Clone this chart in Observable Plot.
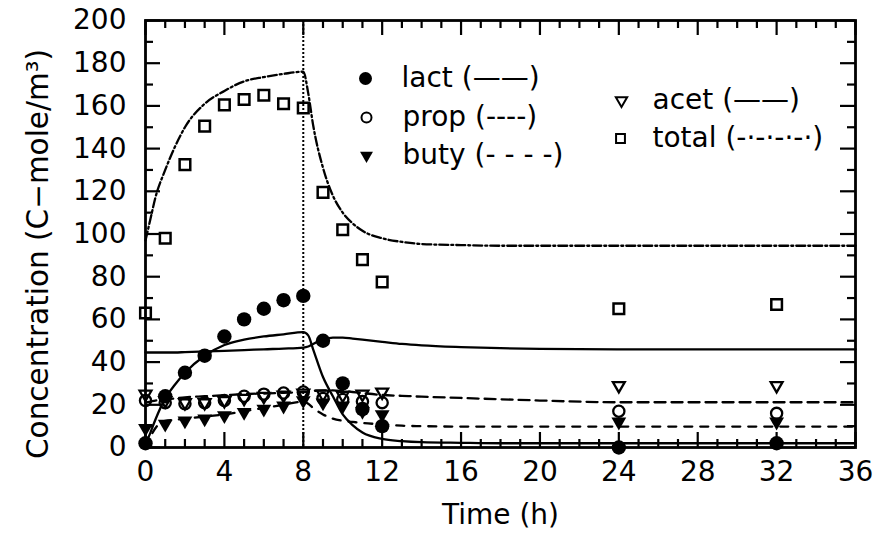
<!DOCTYPE html>
<html>
<head>
<meta charset="utf-8">
<script src="https://cdn.jsdelivr.net/npm/d3@7"></script>
<script src="https://cdn.jsdelivr.net/npm/@observablehq/plot@0.6"></script>
<style>
  html, body { margin: 0; padding: 0; background: #fff; }
  #chart { width: 876px; height: 556px; }
</style>
</head>
<body>
<div id="chart"></div>
<script>
// ---- Observed data (symbols) ----
const obsTime  = [0, 1, 2, 3, 4, 5, 6, 7, 8, 9, 10, 11, 12, 24, 32];
const lactObs  = [2, 24, 35, 43, 52, 60, 65, 69, 71, 50, 30, 18, 10, 0, 2];
const propObs  = [22, 21, 20.5, 21, 22, 24, 25, 25.5, 26, 23, 22.5, 21.5, 21, 17, 16];
const acetObs  = [25, 22, 21, 21, 22, 23, 24, 24.5, 25.5, 25, 24.5, 25, 26, 29, 29];
const butyObs  = [9, 11, 12.5, 13.5, 15, 16.5, 18, 19.5, 22, 21, 19.5, 17, 15.5, 12, 12];
const totalObs = [63, 98, 132.5, 150.5, 160.5, 163, 165, 161, 159, 119.5, 102, 88, 77.5, 65, 67];

// ---- Model curves (lines) ----
const modelTime  = [0, 0.25, 0.5, 1, 1.5, 2, 3, 4, 5, 6, 7, 8, 8.25, 8.5, 9, 9.5, 10, 10.5, 11, 12, 13, 14, 16, 18, 20, 24, 28, 32, 36];
const lactModel  = [1.5, 7, 13, 23, 29.5, 35, 43, 48, 50.5, 52, 53, 54, 52.5, 46, 33, 24, 15.5, 10.5, 7, 4, 3, 2.5, 2.2, 2, 2, 2, 2, 2, 2];
const acetModel  = [44.5, 44.5, 44.5, 44.5, 44.5, 44.7, 45, 45.3, 45.6, 46, 46.3, 46.8, 47.3, 48.5, 50.5, 51.5, 51.5, 51, 50.5, 49.5, 48.5, 47.8, 47, 46.5, 46.2, 46, 46, 46, 46];
const propModel  = [21, 21.5, 22, 22.5, 23, 23.5, 24, 24.5, 25, 25.3, 25.6, 26, 26.2, 26.5, 26.8, 26.8, 26.5, 26, 25.5, 24.6, 24.2, 23.8, 23.2, 22.6, 22, 21.2, 21.2, 21.2, 21.2];
const butyModel  = [0, 5, 9, 12.5, 13, 13.5, 14.5, 15.5, 17, 18.5, 20, 21.5, 20.5, 18.5, 15.5, 13.5, 12.5, 12, 11.5, 10.8, 10.2, 10, 9.8, 9.8, 9.8, 9.8, 9.8, 9.8, 9.8];
const totalModel = [97, 107, 117, 130, 141, 150, 161, 167, 171.5, 173.5, 175, 176, 166, 151, 131, 118, 110, 105, 101.5, 98, 96.3, 95.3, 94.8, 94.5, 94.5, 94.5, 94.5, 94.5, 94.5];

// ---- Axis ticks ----
const xTickLabels = [0, 4, 8, 12, 16, 20, 24, 28, 32, 36];
const xMinorTicks = [1, 2, 3, 5, 6, 7, 9, 10, 11, 13, 14, 15, 17, 18, 19, 21, 22, 23, 25, 26, 27, 29, 30, 31, 33, 34, 35];
const yTickLabels = [0, 20, 40, 60, 80, 100, 120, 140, 160, 180, 200];
const yMinorTicks = [10, 30, 50, 70, 90, 110, 130, 150, 170, 190];
const phaseChange = [8];

// ---- Legend ----
const legendNames = ["lact", "prop", "buty", "acet", "total"];
const legendLabels = ["lact (——)", "prop (----)", "buty (- - - -)", "acet (——)", "total (-·-·-·-·)"];

const W = 876, H = 556, mL = 145, mR = 21, mT = 20, mB = 109;
const FW = W - mL - mR, FH = H - mT - mB;

const triangleDown = {
  draw(ctx, size) {
    const a = Math.sqrt(4 * size / Math.sqrt(3));
    const h = a * Math.sqrt(3) / 2;
    ctx.moveTo(0, 2 * h / 3);
    ctx.lineTo(a / 2, -h / 3);
    ctx.lineTo(-a / 2, -h / 3);
    ctx.closePath();
  }
};

const rows = (ts, vs) => ts.map((t, i) => ({t, c: vs[i]}));

const styles = {
  lact:  {symbol: "circle", fill: "black", stroke: "none", r: 7.2, sw: 0, lr: 6.5, dash: null},
  prop:  {symbol: "circle", fill: "none", stroke: "black", r: 5.6, sw: 2.3, lr: 5, dash: "11,6"},
  buty:  {symbol: triangleDown, fill: "black", stroke: "none", r: 5.5, sw: 0, lr: 4.8, dash: "8,8"},
  acet:  {symbol: triangleDown, fill: "none", stroke: "black", r: 4.4, sw: 2.3, lr: 4.2, dash: null},
  total: {symbol: "square", fill: "none", stroke: "black", r: 6, sw: 2.5, lr: 5, dash: "9,3,2,3"}
};

const obsMap = {lact: lactObs, prop: propObs, buty: butyObs, acet: acetObs, total: totalObs};
const modelMap = {lact: lactModel, prop: propModel, buty: butyModel, acet: acetModel, total: totalModel};

const marks = [];

// model lines
for (const name of ["total", "acet", "prop", "buty", "lact"]) {
  const s = styles[name];
  marks.push(Plot.line(rows(modelTime, modelMap[name]), {
    x: "t", y: "c", stroke: "black", strokeWidth: 2.3,
    strokeDasharray: s.dash, curve: "monotone-x"
  }));
}

// vertical dotted line
marks.push(Plot.ruleX(phaseChange, {x: d => d, stroke: "black", strokeWidth: 2, strokeDasharray: "2,2"}));

// symbols
for (const name of ["total", "prop", "acet", "buty", "lact"]) {
  const s = styles[name];
  marks.push(Plot.dot(rows(obsTime, obsMap[name]), {
    x: "t", y: "c", symbol: s.symbol, r: s.r, fill: s.fill, stroke: s.stroke, strokeWidth: s.sw
  }));
}

// inward ticks on all four sides
const tickW = 2.2;
marks.push(
  Plot.ruleX(xTickLabels, {x: d => d, insetTop: FH - 15, strokeWidth: tickW}),
  Plot.ruleX(xMinorTicks, {x: d => d, insetTop: FH - 8, strokeWidth: tickW}),
  Plot.ruleX(xTickLabels, {x: d => d, insetBottom: FH - 15, strokeWidth: tickW}),
  Plot.ruleX(xMinorTicks, {x: d => d, insetBottom: FH - 8, strokeWidth: tickW}),
  Plot.ruleY(yTickLabels, {y: d => d, insetRight: FW - 15, strokeWidth: tickW}),
  Plot.ruleY(yMinorTicks, {y: d => d, insetRight: FW - 8, strokeWidth: tickW}),
  Plot.ruleY(yTickLabels, {y: d => d, insetLeft: FW - 15, strokeWidth: tickW}),
  Plot.ruleY(yMinorTicks, {y: d => d, insetLeft: FW - 8, strokeWidth: tickW})
);

marks.push(Plot.frame({stroke: "black", strokeWidth: 2.8}));

// legend
const legendPos = {
  lact:  {sx: 365, tx: 401, y: 78},
  prop:  {sx: 366, tx: 402, y: 117},
  buty:  {sx: 366, tx: 402, y: 155},
  acet:  {sx: 621, tx: 652, y: 100},
  total: {sx: 620, tx: 652, y: 138}
};
legendNames.forEach((name, i) => {
  const s = styles[name], p = legendPos[name];
  marks.push(Plot.dot([name], {
    frameAnchor: "top-left", dx: p.sx - mL, dy: p.y - mT,
    symbol: s.symbol, r: s.lr, fill: s.fill, stroke: s.stroke, strokeWidth: s.sw ? 2 : 0
  }));
  marks.push(Plot.text([legendLabels[i]], {
    text: d => d, frameAnchor: "top-left", dx: p.tx - mL, dy: p.y - mT,
    textAnchor: "start", lineAnchor: "middle", fontSize: 28, fill: "black", ariaLabel: "legend"
  }));
});

// axis titles
marks.push(Plot.text(["Time (h)"], {
  text: d => d, frameAnchor: "bottom", dy: 68, lineAnchor: "middle", fontSize: 28, fill: "black"
}));
marks.push(Plot.text(["Concentration (C\u2212mole/m³)"], {
  text: d => d, frameAnchor: "left", dx: -107, dy: 20, rotate: -90,
  textAnchor: "middle", lineAnchor: "middle", fontSize: 29.5, fill: "black"
}));

const chart = Plot.plot({
  width: W, height: H,
  marginLeft: mL, marginRight: mR, marginTop: mT, marginBottom: mB,
  style: {fontFamily: "DejaVu Sans", fontSize: "28px", color: "black", background: "white"},
  x: {domain: [0, 36], ticks: xTickLabels, tickSize: 0, tickPadding: 14, label: null, tickFormat: d => String(d)},
  y: {domain: [0, 200], ticks: yTickLabels, tickSize: 0, tickPadding: 19, label: null, tickFormat: d => String(d)},
  marks
});

d3.select(chart).selectAll('g[aria-label="legend"] text').style("letter-spacing", "2px");
document.getElementById("chart").appendChild(chart);
</script>
</body>
</html>
